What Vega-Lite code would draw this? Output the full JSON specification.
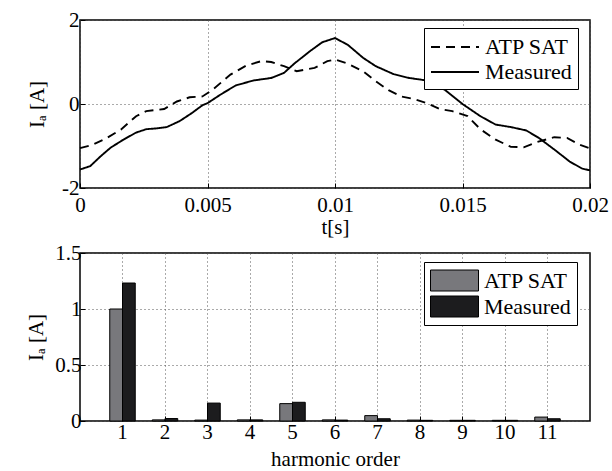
{
  "$schema": "https://vega.github.io/schema/vega-lite/v6.json",
  "background": "white",
  "padding": {"left": 25, "top": 8, "right": 0, "bottom": 0},
  "spacing": 3,
  "config": {
    "font": "Liberation Serif",
    "locale": {"number": {"decimal": ".", "thousands": ",", "grouping": [3], "currency": ["$", ""], "minus": "-"}},
    "view": {"stroke": "black", "strokeWidth": 1.5},
    "axis": {
      "labelFont": "Liberation Serif", "labelFontSize": 21, "labelColor": "black",
      "titleFont": "Liberation Serif", "titleFontSize": 21, "titleFontWeight": "normal", "titleColor": "black",
      "domain": false, "ticks": true, "tickSize": -5, "tickColor": "black", "tickWidth": 1,
      "grid": true, "gridColor": "#555555", "gridDash": [1, 3], "gridWidth": 1, "gridOpacity": 1,
      "labelFlush": false, "labelOverlap": false
    },
    "legend": {
      "labelFont": "Liberation Serif", "labelFontSize": 22, "labelColor": "black",
      "fillColor": "white", "strokeColor": "black", "padding": 6, "rowPadding": 1, "labelOffset": 29
    }
  },
  "resolve": {
    "scale": {"strokeDash": "independent", "fill": "independent"},
    "legend": {"strokeDash": "independent", "fill": "independent"}
  },
  "vconcat": [
    {
      "width": 510,
      "height": 168,
      "data": {"values": [
        {"s": "ATP SAT", "t": 0, "v": -1.05},
        {"s": "ATP SAT", "t": 0.0005, "v": -0.97},
        {"s": "ATP SAT", "t": 0.00105, "v": -0.81},
        {"s": "ATP SAT", "t": 0.0016, "v": -0.61},
        {"s": "ATP SAT", "t": 0.0022, "v": -0.29},
        {"s": "ATP SAT", "t": 0.0026, "v": -0.17},
        {"s": "ATP SAT", "t": 0.0033, "v": -0.12},
        {"s": "ATP SAT", "t": 0.0038, "v": 0.06},
        {"s": "ATP SAT", "t": 0.0043, "v": 0.16},
        {"s": "ATP SAT", "t": 0.0048, "v": 0.18},
        {"s": "ATP SAT", "t": 0.0052, "v": 0.34},
        {"s": "ATP SAT", "t": 0.0059, "v": 0.70},
        {"s": "ATP SAT", "t": 0.0065, "v": 0.91},
        {"s": "ATP SAT", "t": 0.0071, "v": 1.02},
        {"s": "ATP SAT", "t": 0.0075, "v": 1.00},
        {"s": "ATP SAT", "t": 0.0080, "v": 0.90},
        {"s": "ATP SAT", "t": 0.0085, "v": 0.78},
        {"s": "ATP SAT", "t": 0.0092, "v": 0.86},
        {"s": "ATP SAT", "t": 0.0097, "v": 1.02},
        {"s": "ATP SAT", "t": 0.0100, "v": 1.06},
        {"s": "ATP SAT", "t": 0.0105, "v": 0.96},
        {"s": "ATP SAT", "t": 0.0111, "v": 0.78},
        {"s": "ATP SAT", "t": 0.0116, "v": 0.54},
        {"s": "ATP SAT", "t": 0.0121, "v": 0.33},
        {"s": "ATP SAT", "t": 0.0126, "v": 0.18},
        {"s": "ATP SAT", "t": 0.0131, "v": 0.12},
        {"s": "ATP SAT", "t": 0.0136, "v": 0.02},
        {"s": "ATP SAT", "t": 0.0141, "v": -0.12},
        {"s": "ATP SAT", "t": 0.0146, "v": -0.17},
        {"s": "ATP SAT", "t": 0.0152, "v": -0.29},
        {"s": "ATP SAT", "t": 0.0157, "v": -0.60},
        {"s": "ATP SAT", "t": 0.0163, "v": -0.85},
        {"s": "ATP SAT", "t": 0.0169, "v": -1.02},
        {"s": "ATP SAT", "t": 0.0174, "v": -1.03},
        {"s": "ATP SAT", "t": 0.0179, "v": -0.91},
        {"s": "ATP SAT", "t": 0.0186, "v": -0.79},
        {"s": "ATP SAT", "t": 0.0191, "v": -0.81},
        {"s": "ATP SAT", "t": 0.0196, "v": -0.97},
        {"s": "ATP SAT", "t": 0.0200, "v": -1.06},
        {"s": "Measured", "t": 0, "v": -1.56},
        {"s": "Measured", "t": 0.0004, "v": -1.48},
        {"s": "Measured", "t": 0.0008, "v": -1.25},
        {"s": "Measured", "t": 0.0012, "v": -1.04},
        {"s": "Measured", "t": 0.0017, "v": -0.85},
        {"s": "Measured", "t": 0.0022, "v": -0.68},
        {"s": "Measured", "t": 0.0026, "v": -0.60},
        {"s": "Measured", "t": 0.0030, "v": -0.58},
        {"s": "Measured", "t": 0.0034, "v": -0.55},
        {"s": "Measured", "t": 0.0039, "v": -0.41},
        {"s": "Measured", "t": 0.0044, "v": -0.21},
        {"s": "Measured", "t": 0.0048, "v": -0.03},
        {"s": "Measured", "t": 0.0050, "v": 0.02},
        {"s": "Measured", "t": 0.0055, "v": 0.22},
        {"s": "Measured", "t": 0.0061, "v": 0.44},
        {"s": "Measured", "t": 0.0068, "v": 0.56},
        {"s": "Measured", "t": 0.0075, "v": 0.62},
        {"s": "Measured", "t": 0.0080, "v": 0.74},
        {"s": "Measured", "t": 0.0084, "v": 0.96},
        {"s": "Measured", "t": 0.0090, "v": 1.25},
        {"s": "Measured", "t": 0.0095, "v": 1.47},
        {"s": "Measured", "t": 0.0100, "v": 1.57},
        {"s": "Measured", "t": 0.0105, "v": 1.41},
        {"s": "Measured", "t": 0.0111, "v": 1.10},
        {"s": "Measured", "t": 0.0116, "v": 0.90},
        {"s": "Measured", "t": 0.0123, "v": 0.71},
        {"s": "Measured", "t": 0.0129, "v": 0.62},
        {"s": "Measured", "t": 0.0136, "v": 0.56},
        {"s": "Measured", "t": 0.0143, "v": 0.34},
        {"s": "Measured", "t": 0.0150, "v": 0.0},
        {"s": "Measured", "t": 0.0157, "v": -0.29},
        {"s": "Measured", "t": 0.0163, "v": -0.49},
        {"s": "Measured", "t": 0.0169, "v": -0.55},
        {"s": "Measured", "t": 0.0175, "v": -0.63},
        {"s": "Measured", "t": 0.0180, "v": -0.81},
        {"s": "Measured", "t": 0.0187, "v": -1.13},
        {"s": "Measured", "t": 0.0192, "v": -1.37},
        {"s": "Measured", "t": 0.0197, "v": -1.54},
        {"s": "Measured", "t": 0.0200, "v": -1.58}
      ]},
      "mark": {"type": "line", "strokeWidth": 1.9, "color": "black"},
      "encoding": {
        "x": {
          "field": "t", "type": "quantitative",
          "scale": {"domain": [0, 0.02], "nice": false},
          "axis": {"values": [0, 0.005, 0.01, 0.015, 0.02], "format": "~g", "title": "t[s]", "labelPadding": 11, "titlePadding": 1}
        },
        "y": {
          "field": "v", "type": "quantitative",
          "scale": {"domain": [-2, 2], "nice": false},
          "axis": {"values": [-2, 0, 2], "format": "~g", "title": "Iₐ [A]", "labelPadding": 6, "titlePadding": 14}
        },
        "strokeDash": {
          "field": "s", "type": "nominal",
          "scale": {"domain": ["ATP SAT", "Measured"], "range": [[9, 6], [1, 0]]},
          "legend": {
            "title": null, "orient": "none", "legendX": 344, "legendY": 8,
            "symbolType": "M-1,0H3", "symbolSize": 576, "symbolStrokeWidth": 1.9,
            "symbolStrokeColor": "black", "symbolFillColor": "transparent"
          }
        }
      }
    },
    {
      "width": 510,
      "height": 168,
      "data": {"values": [
        {"h": 1, "s": "ATP SAT", "v": 1.0},
        {"h": 1, "s": "Measured", "v": 1.232},
        {"h": 2, "s": "ATP SAT", "v": 0.01},
        {"h": 2, "s": "Measured", "v": 0.022},
        {"h": 3, "s": "ATP SAT", "v": 0.008},
        {"h": 3, "s": "Measured", "v": 0.16},
        {"h": 4, "s": "ATP SAT", "v": 0.01},
        {"h": 4, "s": "Measured", "v": 0.01},
        {"h": 5, "s": "ATP SAT", "v": 0.155},
        {"h": 5, "s": "Measured", "v": 0.167},
        {"h": 6, "s": "ATP SAT", "v": 0.01},
        {"h": 6, "s": "Measured", "v": 0.008},
        {"h": 7, "s": "ATP SAT", "v": 0.048},
        {"h": 7, "s": "Measured", "v": 0.02},
        {"h": 8, "s": "ATP SAT", "v": 0.008},
        {"h": 8, "s": "Measured", "v": 0.006},
        {"h": 9, "s": "ATP SAT", "v": 0.006},
        {"h": 9, "s": "Measured", "v": 0.006},
        {"h": 10, "s": "ATP SAT", "v": 0.006},
        {"h": 10, "s": "Measured", "v": 0.006},
        {"h": 11, "s": "ATP SAT", "v": 0.035},
        {"h": 11, "s": "Measured", "v": 0.02}
      ]},
      "mark": {"type": "bar", "stroke": "black", "strokeWidth": 1},
      "encoding": {
        "x": {
          "field": "h", "type": "ordinal",
          "scale": {"type": "band", "domain": [1, 2, 3, 4, 5, 6, 7, 8, 9, 10, 11], "paddingInner": 0, "paddingOuter": 0.5},
          "axis": {"labelAngle": 0, "title": "harmonic order", "bandPosition": 0.5, "grid": true, "labelPadding": 5, "titlePadding": 6}
        },
        "xOffset": {
          "field": "s", "type": "nominal",
          "scale": {"domain": ["ATP SAT", "Measured"], "paddingInner": 0, "paddingOuter": 0.667}
        },
        "y": {
          "field": "v", "type": "quantitative",
          "scale": {"domain": [0, 1.5], "nice": false},
          "axis": {"values": [0, 0.5, 1, 1.5], "format": "~g", "title": "Iₐ [A]", "labelPadding": 4, "titlePadding": 8}
        },
        "fill": {
          "field": "s", "type": "nominal",
          "scale": {"domain": ["ATP SAT", "Measured"], "range": ["#78787c", "#1c1c1e"]},
          "legend": {
            "title": null, "orient": "none", "legendX": 344, "legendY": 9,
            "symbolType": "M-1,-0.875H3V0.875H-1Z", "symbolSize": 576,
            "symbolStrokeColor": "black", "symbolStrokeWidth": 1, "symbolOpacity": 1,
            "encode": {"symbols": {"update": {"stroke": {"value": "black"}, "strokeWidth": {"value": 1}}}}
          }
        }
      }
    }
  ]
}
